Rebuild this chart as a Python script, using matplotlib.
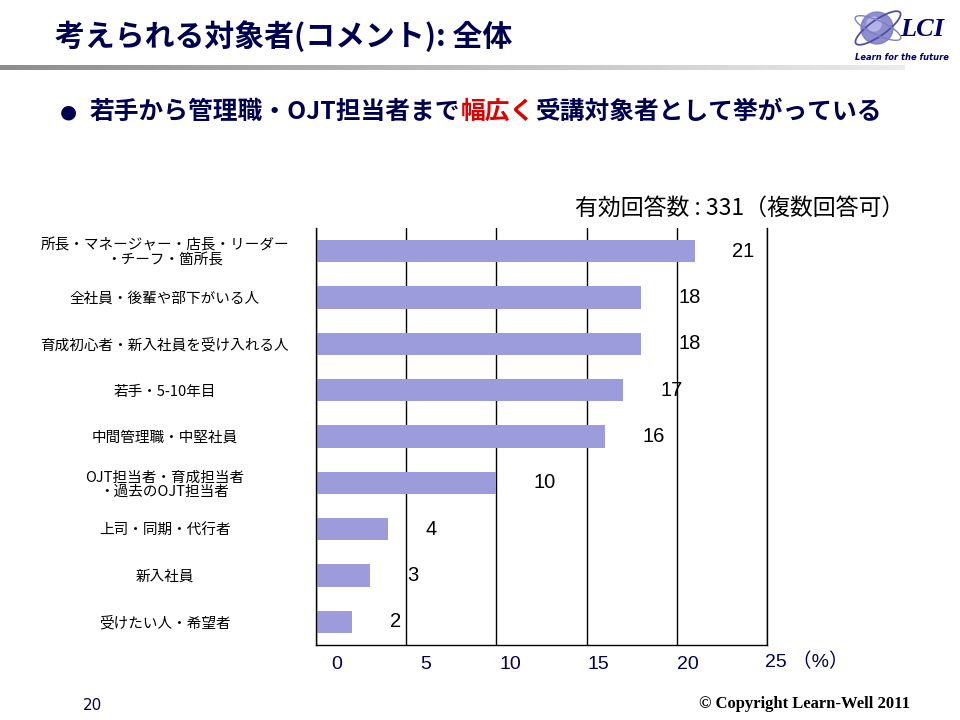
import numpy as np
import matplotlib.pyplot as plt
import matplotlib.transforms as mtrans
from matplotlib.patches import Ellipse

plt.rcParams['font.family'] = ['Noto Sans CJK JP', 'DejaVu Sans']
arial = ['Liberation Sans', 'Noto Sans CJK JP']

# データ
categories = ['所長・マネージャー・店長・リーダー\n・チーフ・箇所長',
              '全社員・後輩や部下がいる人',
              '育成初心者・新入社員を受け入れる人',
              '若手・5-10年目',
              '中間管理職・中堅社員',
              'OJT担当者・育成担当者\n・過去のOJT担当者',
              '上司・同期・代行者',
              '新入社員',
              '受けたい人・希望者']
values = [21, 18, 18, 17, 16, 10, 4, 3, 2]
xticks_val = [0, 5, 10, 15, 20, 25]
xtick_labels = ['0', '5', '10', '15', '20', '25 （%）']

navy = '#000050'
bar_color = '#9c9cdc'

fig = plt.figure(figsize=(9.6, 7.2), dpi=100)

# タイトル
fig.text(55/960, 1-36/720, '考えられる対象者(コメント): 全体', fontsize=21.5,
         fontweight='bold', color=navy, va='center', ha='left')

# 灰色のグラデーション線
grad = np.linspace(0.55, 0.92, 256).reshape(1, -1)
lax = fig.add_axes([0, 1-70/720, 905/960, 5/720])
lax.imshow(grad, aspect='auto', cmap='gray', vmin=0, vmax=1)
lax.axis('off')

# ロゴ
logo = fig.add_axes([850/960, 1-66/720, 110/960, 66/720])
logo.set_xlim(0, 110)
logo.set_ylim(0, 66)
logo.axis('off')
logo.add_patch(Ellipse((27, 38), 32, 32, color='#7a7ac8', alpha=0.85))
logo.add_patch(Ellipse((24, 42), 14, 14, color='#b8b8e8', alpha=0.9))
logo.add_patch(Ellipse((28, 38), 54, 16, angle=35, fill=False, ec='#5050a0', lw=1.3))
logo.add_patch(Ellipse((28, 38), 50, 14, angle=-25, fill=False, ec='#8080c0', lw=1))
logo.text(50, 36, 'LCI', fontsize=19, fontweight='bold', style='italic',
          color='#000070', family='Liberation Serif', va='center')
logo.text(52, 8, 'Learn for the future', fontsize=6, fontweight='bold',
          style='italic', color='#000070', family='DejaVu Sans', ha='center', va='center')

# サブタイトル
sub_y = 1-112/720
fig.text(68/960, sub_y, '●', fontsize=14, color=navy, ha='center', va='center',
         family='DejaVu Sans')
t1 = fig.text(90/960, sub_y, '若手から管理職・OJT担当者まで', fontsize=17.8,
              fontweight='bold', color=navy, va='center', ha='left')
fig.canvas.draw()
bb = t1.get_window_extent()
t2 = fig.text(0, sub_y, '幅広く', fontsize=17.8, fontweight='bold', color='#e00000',
              va='center', ha='left',
              transform=mtrans.Affine2D().translate(bb.x1, 0) + mtrans.blended_transform_factory(
                  mtrans.IdentityTransform(), fig.transFigure))
fig.canvas.draw()
bb2 = t2.get_window_extent()
fig.text(0, sub_y, '受講対象者として挙がっている', fontsize=17.8, fontweight='bold',
         color=navy, va='center', ha='left',
         transform=mtrans.Affine2D().translate(bb2.x1, 0) + mtrans.blended_transform_factory(
             mtrans.IdentityTransform(), fig.transFigure))

# 注記
fig.text(575/960, 1-208/720, '有効回答数 : 331（複数回答可）', fontsize=16.5,
         color='black', va='center', ha='left', family=arial[::-1])

# グラフ
ax = fig.add_axes([316/960, 1-645/720, 451/960, 417/720])
y = np.arange(len(categories))
ax.barh(y, values, height=0.48, color=bar_color, zorder=2)
ax.set_xlim(0, 25)
ax.set_ylim(8.5, -0.5)
ax.set_yticks(y)
ax.set_yticklabels(categories, fontsize=10.5, ha='center', multialignment='center',
                   linespacing=1.05)
ax.tick_params(axis='y', length=0, pad=109)
ax.set_xticks(xticks_val)
ax.set_xticklabels(xtick_labels, fontsize=14, color=navy, family=arial)
ax.tick_params(axis='x', length=0, pad=8)
ax.xaxis.grid(True, color='black', lw=1)
ax.spines['top'].set_visible(False)
for s in ['left', 'right', 'bottom']:
    ax.spines[s].set_color('black')
    ax.spines[s].set_linewidth(1)

dxs = [21, 19, 14, 12, 11, -2]
dys = [0, 0, 0, 0, 0, 3]
for lab, dx, dy in zip(ax.get_xticklabels(), dxs, dys):
    lab.set_transform(lab.get_transform() +
                      mtrans.ScaledTranslation(dx/100, dy/100, fig.dpi_scale_trans))
ax.get_xticklabels()[-1].set_ha('left')

for yi, v in zip(y, values):
    ax.annotate(str(v), (v, yi), xytext=(27, 0),
                textcoords='offset points', fontsize=14.5, color='black',
                va='center', ha='left', family='Liberation Sans')

# フッター
fig.text(92/960, 1-705/720, '20', fontsize=11, color=navy, ha='center', va='center',
         family='Liberation Sans Narrow')
fig.text(910/960, 1-704/720, '© Copyright Learn-Well 2011', fontsize=12,
         fontweight='bold', color='black', ha='right', va='center',
         family='Liberation Serif')

fig.savefig('out.png', dpi=100)
